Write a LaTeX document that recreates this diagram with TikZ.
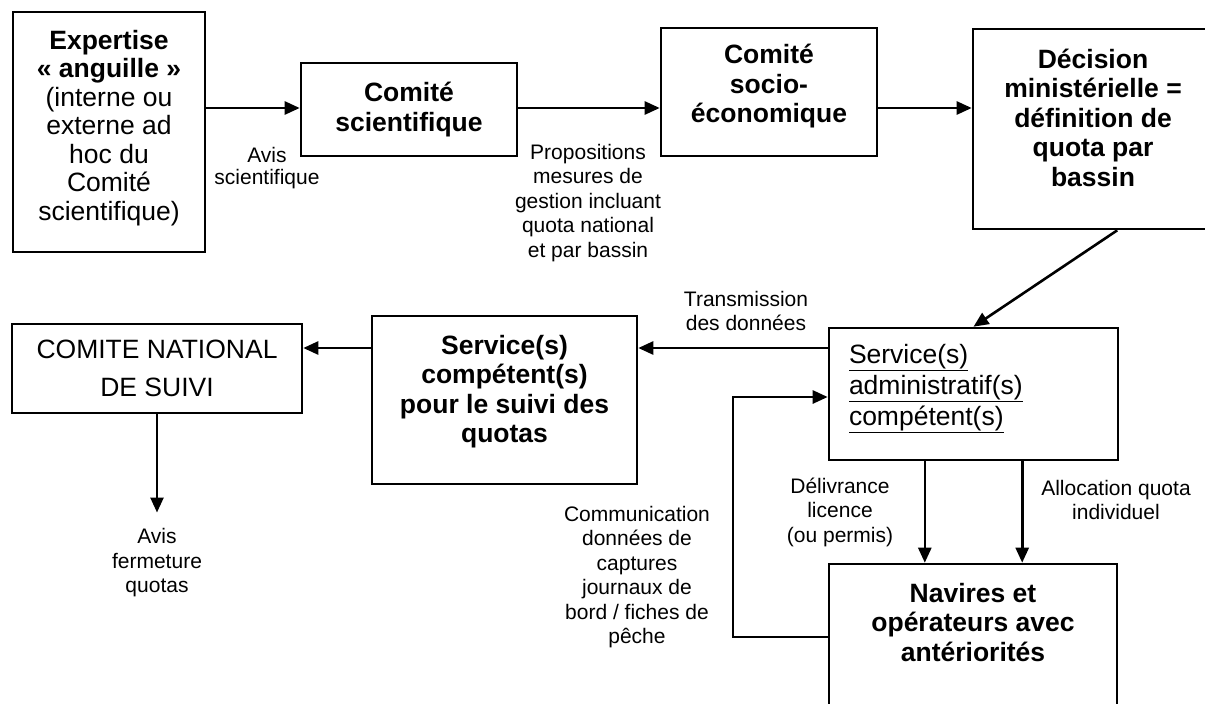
\documentclass[tikz,border=0pt]{standalone}
\usepackage{fontspec}
\setmainfont{Liberation Sans}
\usetikzlibrary{arrows.meta,calc}
\newcommand{\boxtxt}{\fontsize{26.5}{29.5}\selectfont}
\newcommand{\lbltxt}{\fontsize{21}{24.5}\selectfont}

\begin{document}
\begin{tikzpicture}[x=1pt,y=-1pt,
  box/.style={draw,line width=2.6pt,inner sep=0pt,align=center,font=\boxtxt},
  bbox/.style={box,font=\boxtxt\bfseries},
  lbl/.style={inner sep=0pt,align=center,font=\lbltxt},
  arr/.style={line width=2.6pt,-{Triangle[length=15pt,width=13pt]}}]
\useasboundingbox (0,0) rectangle (1205,704);
% top row
\node[box,minimum width=192pt,minimum height=240pt,text depth=14pt,font=\fontsize{26.5}{28.5}\selectfont] (expert) at (109,132)
  {\textbf{Expertise}\\\textbf{« anguille »}\\(interne ou\\externe ad\\hoc du\\Comité\\scientifique)};
\node[bbox,minimum width=216pt,minimum height=93pt] (comsci) at (409,109.5) {Comité\\scientifique};
\node[bbox,minimum width=216pt,minimum height=128pt,text depth=17pt] (comsoc) at (769,92) {Comité\\socio-\\économique};
\node[bbox,minimum width=240pt,minimum height=200pt,text depth=23pt] (decis) at (1093,129)
  {Décision\\ministérielle =\\définition de\\quota par\\bassin};
% second row
\node[box,minimum width=290pt,minimum height=89pt,font=\fontsize{26.5}{38}\selectfont] (cns) at (157,368.5) {COMITE NATIONAL\\DE SUIVI};
\node[bbox,minimum width=265pt,minimum height=168pt,text depth=22pt] (suivi) at (504.5,400)
  {Service(s)\\compétent(s)\\pour le suivi des\\quotas};
\node[box,minimum width=289pt,minimum height=132pt,text width=249pt,align=left,text depth=81pt,font=\fontsize{26.5}{31}\selectfont] (admin) at (973.5,394)
  {\underline{Service(s)}\\\underline{administratif(s)}\\\underline{compétent(s)}};
\node[bbox,minimum width=288pt,minimum height=200pt,text depth=84pt] (navires) at (973,664)
  {Navires et\\opérateurs avec\\antériorités};
% labels
\node[lbl,font=\fontsize{21}{22}\selectfont] (avis) at (267,168) {Avis\\scientifique};
\node[lbl] (prop) at (588,203) {Propositions\\mesures de\\gestion incluant\\quota national\\et par bassin};
\node[lbl] (trans) at (746,311) {Transmission\\des données};
\node[lbl] (deliv) at (840,512) {Délivrance\\licence\\(ou permis)};
\node[lbl] (alloc) at (1116,500) {Allocation quota\\individuel};
\node[lbl] (comm) at (637,577) {Communication\\données de\\captures\\journaux de\\bord / fiches de\\pêche};
\node[lbl] (ferm) at (157,563) {Avis\\fermeture\\quotas};
% connectors
\coordinate (toprow) at (0,108);
\coordinate (midrow) at (0,348);
\draw[arr] (expert.east |- toprow) -- (comsci.west |- toprow);
\draw[arr] (comsci.east |- toprow) -- (comsoc.west |- toprow);
\draw[arr] (comsoc.east |- toprow) -- (decis.west |- toprow);
\draw[arr] ($(decis.south west)!0.6!(decis.south east)$) -- (admin.north);
\draw[arr] (admin.west |- midrow) -- (suivi.east |- midrow);
\draw[arr] (suivi.west |- midrow) -- (cns.east |- midrow);
\draw[arr,shorten >=16pt] (cns.south) -- (ferm.north);
\foreach \f in {0.333,0.667} {
  \coordinate (drop) at ($(admin.south west)!\f!(admin.south east)$);
  \draw[arr] (drop) -- (drop |- navires.north);
}
\coordinate (loopbot) at (733,637);
\coordinate (looptop) at (733,397);
\draw[arr] (navires.west |- loopbot) -- (loopbot) -- (looptop) -- (admin.west |- looptop);
\end{tikzpicture}
\end{document}
